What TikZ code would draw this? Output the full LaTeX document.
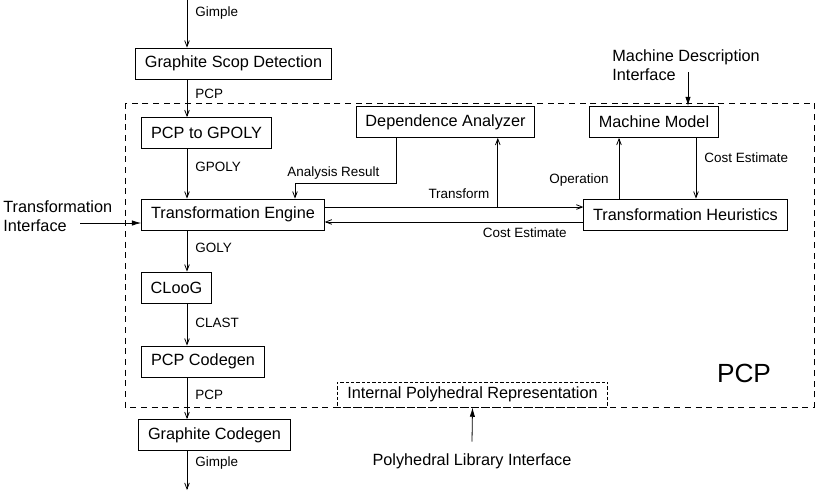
\documentclass[tikz,border=0pt]{standalone}
\usepackage{fontspec}
\setmainfont{Liberation Sans}
\usetikzlibrary{arrows.meta}

\begin{document}
\begin{tikzpicture}[x=0.75pt,y=-0.75pt,line width=0.6pt,
  box/.style={draw,font=\fontsize{12.2}{14.6}\selectfont,inner xsep=7pt,inner ysep=0pt,minimum height=23.25pt},
  lbl/.style={font=\fontsize{10.1}{12}\selectfont,inner sep=0pt},
  iface/.style={font=\fontsize{12.2}{14.25}\selectfont,align=left,inner sep=0pt},
  flow/.style={-{Straight Barb[length=4.5pt,width=3.5pt]}},
  input/.style={-{Latex[length=7pt,width=4pt]}}]
  \useasboundingbox (0,0) rectangle (816,492);

  \draw[dash pattern=on 4.5pt off 3.5pt] (125,103) rectangle (814,407);
  \node[font=\fontsize{19.7}{24}\selectfont] (13) at (744,373) {PCP};

  \node[box] (0) at (233.5,63.5) {Graphite Scop Detection};
  \node[box] (1) at (206.5,133) {PCP to GPOLY};
  \node[box] (2) at (233,214.5) {Transformation Engine};
  \node[box] (3) at (176.5,287.5) {CLooG};
  \node[box] (4) at (203,361.5) {PCP Codegen};
  \node[box] (5) at (214.5,435) {Graphite Codegen};
  \node[box] (6) at (445.5,122) {Dependence Analyzer};
  \node[box] (7) at (654,122) {Machine Model};
  \node[box] (8) at (685.5,214.5) {Transformation Heuristics};
  \node[box,dash pattern=on 2.5pt off 1.5pt,minimum height=18.75pt,minimum width=203pt] (9) at (472.5,394.5) {Internal Polyhedral Representation};

  \coordinate (14) at (187,0);
  \coordinate (15) at (187,490);
  \path[flow,every node/.style={lbl,anchor=west,xshift=6pt}]
    (14) edge node[pos=.27]{Gimple} (14 |- 0.north)
    (0.south -| 14) edge node[pos=.38]{PCP} (1.north -| 14)
    (1.south -| 14) edge node[pos=.37]{GPOLY} (2.north -| 14)
    (2.south -| 14) edge node[pos=.43]{GOLY} (3.north -| 14)
    (3.south -| 14) edge node[pos=.47]{CLAST} (4.north -| 14)
    (4.south -| 14) edge node[pos=.43]{PCP} (5.north -| 14)
    (5.south -| 14) edge node[pos=.32]{Gimple} (15);

  \coordinate (16) at (396,183);
  \draw[flow] (6.south -| 16) -- (16) -| node[lbl,pos=.31,above=2.5pt]{Analysis Result} (2.north -| 295,0);

  \draw[flow] ([yshift=5.6pt]2.east) -- coordinate[pos=.669] (17)
    node[lbl,pos=.638,above=6pt,anchor=south east]{Transform} ([yshift=5.6pt]2.east -| 8.west);
  \draw[flow] (17) -- (17 |- 6.south);
  \draw[flow] ([yshift=-5.6pt]8.west) --
    node[lbl,pos=.063,below=3.8pt,anchor=north east]{Cost Estimate} ([yshift=-5.6pt]8.west -| 2.east);

  \draw[flow] (8.north -| 619,0) -- node[lbl,pos=.30,left=7.5pt]{Operation} (7.south -| 619,0);
  \draw[flow] (7.south -| 696,0) -- node[lbl,pos=.32,right=6pt]{Cost Estimate} (8.north -| 696,0);

  % interfaces
  \node[iface,anchor=north west] (10) at (3,200) {Transformation\\Interface};
  \coordinate (18) at (80,223);
  \draw[input] (18) -- (18 -| 2.west);
  \node[iface,anchor=north west] (11) at (612,49) {Machine Description\\Interface};
  \coordinate (19) at (688,72);
  \draw[input] (19) -- (19 |- 7.north);
  \node[iface] (12) at (472,461) {Polyhedral Library Interface};
  \draw[input] ([yshift=8.5pt]12.north) -- (9.south);
\end{tikzpicture}
\end{document}
